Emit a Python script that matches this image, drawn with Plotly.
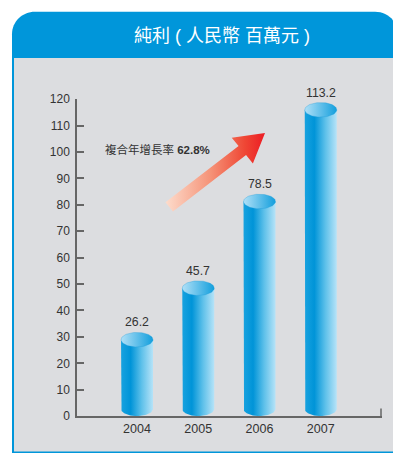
import numpy as np
import plotly.graph_objects as go

# ---------------- data ----------------
years = ["2004", "2005", "2006", "2007"]
profit = [26.2, 45.7, 78.5, 113.2]
y_ticks = [0, 10, 20, 30, 40, 50, 60, 70, 80, 90, 100, 110, 120]
title_text = "純利 ( 人民幣 百萬元 )"
cagr_label = "複合年增長率"
cagr_value = "62.8%"

# ---------------- geometry / style ----------------
W, H = 393, 460
X_RANGE = [-0.98, 4.0]
Y_RANGE = [0, 120]
PX_L, PX_R = 77, 382      # plot area left/right (px)
PX_B, PX_T = 422, 95      # plot area bottom/top (px)
x_per_px = (X_RANGE[1] - X_RANGE[0]) / (PX_R - PX_L)
y_per_px = (Y_RANGE[1] - Y_RANGE[0]) / (PX_B - PX_T)

RX = 16 * x_per_px        # cylinder half width
RY = 7.5 * y_per_px       # ellipse half height

BLUE = "#0096da"
GRAY = "#dcdde0"
AXIS = "#666666"
TEXT = "#333333"
FONT = "Liberation Sans, Arial, Noto Sans CJK TC, sans-serif"
CJK = "Liberation Sans, Noto Sans CJK TC, sans-serif"

body_scale = [[0, "#18a2df"], [0.3, "#0094d8"], [0.65, "#5fc1ea"], [1, "#b6e3f8"]]
top_scale = [[0, "#b0e0f7"], [1, "#139fdd"]]
arrow_scale = [[0, "#fddccc"], [0.45, "#f59378"], [0.8, "#ef4634"], [1, "#ec1c24"]]


def px2x(px):
    return X_RANGE[0] + (px - PX_L) * x_per_px


def px2y(py):
    return (PX_B - py) * y_per_px


fig = go.Figure()

# cylinders
for i, v in enumerate(profit):
    cx = i
    t = np.linspace(np.pi, 2 * np.pi, 50)
    bx = cx + RX * np.cos(t)
    by = RY + RY * np.sin(t)
    xs = [cx - RX] + list(bx) + [cx + RX, cx - RX]
    ys = [v + RY] + list(by) + [v + RY, v + RY]
    fig.add_trace(go.Scatter(
        x=xs, y=ys, mode="lines", fill="toself",
        line=dict(width=0, color="rgba(0,0,0,0)"),
        fillgradient=dict(type="horizontal", colorscale=body_scale),
        hoverinfo="skip", showlegend=False))
    tt = np.linspace(0, 2 * np.pi, 80)
    fig.add_trace(go.Scatter(
        x=cx + RX * np.cos(tt), y=v + RY + RY * np.sin(tt),
        mode="lines", fill="toself",
        line=dict(width=0.6, color="rgba(20,150,215,0.5)"),
        fillgradient=dict(type="horizontal", colorscale=top_scale),
        hoverinfo="skip", showlegend=False))
    fig.add_annotation(x=cx, y=v + 2 * RY, yanchor="bottom", yshift=1,
                       text=f"{v}", showarrow=False,
                       font=dict(family=FONT, size=12.3, color=TEXT))

# growth arrow (decoration), built in pixel space
T = np.array([169.2, 206.2])
P = np.array([265.0, 130.0])
u = (P - T) / np.linalg.norm(P - T)
n = np.array([-u[1], u[0]])
B = P - 29 * u
pts = [T + 6 * n, B + 6 * n, B + 17 * n, P, B - 17 * n, B - 6 * n, T - 6 * n, T + 6 * n]
fig.add_trace(go.Scatter(
    x=[px2x(p[0]) for p in pts], y=[px2y(p[1]) for p in pts],
    mode="lines", fill="toself", line=dict(width=0, color="rgba(0,0,0,0)"),
    fillgradient=dict(type="horizontal", colorscale=arrow_scale),
    hoverinfo="skip", showlegend=False))

fig.add_annotation(xref="paper", yref="paper", x=103 / W, y=1 - 147 / H,
                   xanchor="left", yanchor="middle", showarrow=False,
                   text=f"{cagr_label} <b>{cagr_value}</b>",
                   font=dict(family=CJK, size=11.5, color=TEXT))

# title
fig.add_annotation(xref="paper", yref="paper", x=222 / W, y=1 - 30 / H,
                   xanchor="center", yanchor="middle", showarrow=False,
                   text=title_text,
                   font=dict(family=CJK, size=18, color="white"))


def rect(x0, y0, x1, y1, color):
    return dict(type="rect", xref="paper", yref="paper", layer="below",
                x0=x0 / W, x1=x1 / W, y0=1 - y1 / H, y1=1 - y0 / H,
                fillcolor=color, line=dict(width=0))


def header_path(x0, y0, x1, y1, r):
    k = 0.5523
    X = lambda v: v / W
    Y = lambda v: 1 - v / H
    return (f"M{X(x0)},{Y(y1)} L{X(x0)},{Y(y0 + r)} "
            f"C{X(x0)},{Y(y0 + r - k * r)} {X(x0 + r - k * r)},{Y(y0)} {X(x0 + r)},{Y(y0)} "
            f"L{X(x1 - r)},{Y(y0)} "
            f"C{X(x1 - r + k * r)},{Y(y0)} {X(x1)},{Y(y0 + r - k * r)} {X(x1)},{Y(y0 + r)} "
            f"L{X(x1)},{Y(y1)} Z")


shapes = [
    rect(12, 52, 400, 460, BLUE),
    rect(14, 52, 400, 458.5, GRAY),
    dict(type="path", xref="paper", yref="paper", layer="below",
         path=header_path(12, 5, 398, 52.5, 23), fillcolor=BLUE, line=dict(width=0)),
    dict(type="line", xref="x", yref="y", x0=px2x(381), x1=px2x(381),
         y0=0, y1=8 * y_per_px, line=dict(color=AXIS, width=1.5)),
]

fig.update_layout(
    width=W, height=H, margin=dict(l=0, r=0, t=0, b=0),
    paper_bgcolor="white", plot_bgcolor="rgba(0,0,0,0)",
    shapes=shapes, showlegend=False,
    xaxis=dict(domain=[PX_L / W, PX_R / W], range=X_RANGE,
               tickvals=list(range(len(years))), ticktext=years,
               showgrid=False, zeroline=False, showline=True,
               linecolor=AXIS, linewidth=1.5, ticks="",
               tickfont=dict(family=FONT, size=12.5, color=TEXT),
               fixedrange=True),
    yaxis=dict(domain=[1 - PX_B / H, 1 - PX_T / H], range=Y_RANGE,
               tickvals=y_ticks, showgrid=False, zeroline=False,
               showline=True, linecolor=AXIS, linewidth=1.5,
               ticks="inside", ticklen=7, tickwidth=1.5, tickcolor=AXIS,
               ticklabelstandoff=3,
               tickfont=dict(family=FONT, size=12, color=TEXT),
               fixedrange=True),
)

fig.write_html("out.html")
